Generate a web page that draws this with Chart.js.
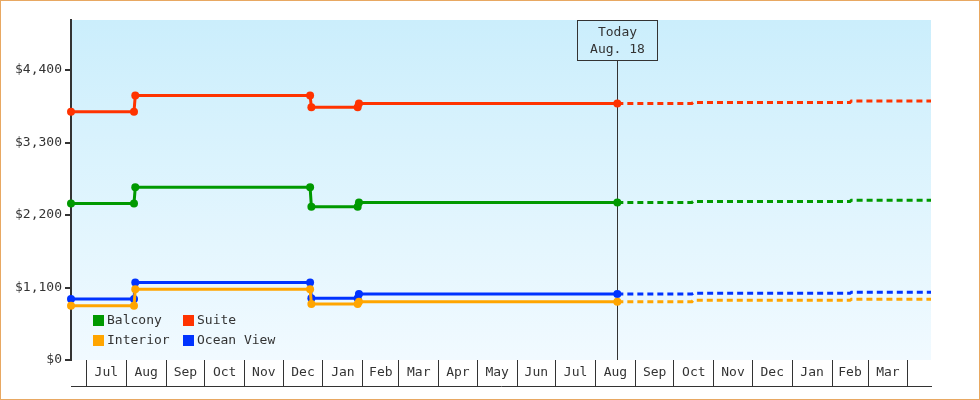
<!DOCTYPE html>
<html lang="en">
<head>
<meta charset="UTF-8">
<title>Cabin price history</title>
<script src="https://cdn.jsdelivr.net/npm/chart.js@4"></script>
<style>
    body { margin: 0; background: #fff; }
    .chart-box {
        width: 980px;
        height: 400px;
        border: 1px solid #e8a862;
        box-sizing: border-box;
        position: relative;
    }
</style>
</head>
<body>
<div class="chart-box"><canvas id="priceChart"></canvas></div>
<script>
// price history: each change is the last day at the old price + first day at the new one
const pastDates = ['2013-06-19', '2013-08-07', '2013-08-08', '2013-12-22', '2013-12-23', '2014-01-28', '2014-01-29', '2014-08-18'];
// projected prices after today (dashed)
const futureDates = ['2014-08-18', '2014-10-15', '2014-10-16', '2015-02-15', '2015-02-16', '2015-04-19'];

const balconyPast = [2377, 2377, 2620, 2620, 2326, 2326, 2392, 2392];
const balconyFuture = [2392, 2392, 2407, 2407, 2423, 2423];
const suitePast = [3767, 3767, 4015, 4015, 3834, 3834, 3894, 3894];
const suiteFuture = [3894, 3894, 3909, 3909, 3930, 3930];
const interiorPast = [824, 824, 1072, 1072, 850, 850, 885, 885];
const interiorFuture = [885, 885, 905, 905, 921, 921];
const oceanPast = [925, 925, 1178, 1178, 936, 936, 1001, 1001];
const oceanFuture = [1001, 1001, 1012, 1012, 1027, 1027];

const seriesNames = ['Balcony', 'Suite', 'Interior', 'Ocean View'];
const seriesColors = ['#009900', '#ff3300', '#ffa500', '#0033ff'];

const monthLabels = ['Jul', 'Aug', 'Sep', 'Oct', 'Nov', 'Dec', 'Jan', 'Feb', 'Mar', 'Apr', 'May', 'Jun',
                     'Jul', 'Aug', 'Sep', 'Oct', 'Nov', 'Dec', 'Jan', 'Feb', 'Mar'];
const firstMonth = [2013, 6]; // July 2013
const xStart = '2013-06-19';
const xEnd = '2015-04-19';

const yTicks = [0, 1100, 2200, 3300, 4400];
const yMax = 5160;

const todayDate = '2014-08-18';
const todayText = ['Today', 'Aug. 18'];

const DAY = 86400000;
const toDay = s => Date.parse(s + 'T00:00:00Z') / DAY;

// month boundaries (even ticks) and month middles (odd ticks, labelled) in day units
const monthStarts = [];
for (let i = 0; i <= monthLabels.length; i++) {
    monthStarts.push(Date.UTC(firstMonth[0], firstMonth[1] + i, 1) / DAY);
}
const xTicks = [];
monthStarts.forEach((v, i) => {
    xTicks.push(v);
    if (i < monthLabels.length) xTicks.push((v + monthStarts[i + 1]) / 2);
});

const toPoints = (dates, values) => dates.map((d, i) => ({ x: toDay(d), y: values[i] }));

const pastSeries = [balconyPast, suitePast, interiorPast, oceanPast];
const futureSeries = [balconyFuture, suiteFuture, interiorFuture, oceanFuture];

const datasets = [];
seriesNames.forEach((name, i) => {
    datasets.push({
        label: name,
        data: toPoints(pastDates, pastSeries[i]),
        borderColor: seriesColors[i],
        backgroundColor: seriesColors[i],
        borderWidth: 3,
        pointRadius: 4,
        pointBorderWidth: 0,
        pointHoverRadius: 4,
        clip: false
    });
    datasets.push({
        label: name + ' (projected)',
        data: toPoints(futureDates, futureSeries[i]),
        borderColor: seriesColors[i],
        borderWidth: 3,
        borderDash: [6, 4],
        pointRadius: 0,
        clip: false
    });
});

// light blue gradient behind the plot
const plotBackground = {
    id: 'plotBackground',
    beforeDraw(chart) {
        const { ctx, chartArea: a } = chart;
        const g = ctx.createLinearGradient(0, a.top, 0, a.bottom);
        g.addColorStop(0, '#cbeefc');
        g.addColorStop(1, '#f1faff');
        ctx.save();
        ctx.fillStyle = g;
        ctx.fillRect(a.left, a.top, a.right - a.left, a.bottom - a.top);
        ctx.restore();
    }
};

// "Today" marker line with its label box
const todayMarker = {
    id: 'todayMarker',
    beforeDatasetsDraw(chart) {
        const { ctx, chartArea: a } = chart;
        const x = Math.round(chart.scales.x.getPixelForValue(toDay(todayDate))) + 0.5;
        const boxW = 80, boxH = 40;
        const top = a.top + 0.5;
        ctx.save();
        ctx.strokeStyle = '#333';
        ctx.lineWidth = 1;
        ctx.strokeRect(x - boxW / 2, top, boxW, boxH);
        ctx.beginPath();
        ctx.moveTo(x, top + boxH);
        ctx.lineTo(x, a.bottom);
        ctx.stroke();
        ctx.fillStyle = '#333';
        ctx.font = '13px "DejaVu Sans Mono", monospace';
        ctx.textAlign = 'center';
        ctx.textBaseline = 'middle';
        ctx.fillText(todayText[0], x, top + 12);
        ctx.fillText(todayText[1], x, top + 29.5);
        ctx.restore();
    }
};

// two-column legend inside the lower left of the plot
const insideLegend = {
    id: 'insideLegend',
    afterDraw(chart) {
        const { ctx, chartArea: a } = chart;
        ctx.save();
        ctx.font = '13px "DejaVu Sans Mono", monospace';
        ctx.textBaseline = 'middle';
        ctx.textAlign = 'left';
        seriesNames.forEach((name, i) => {
            const col = i % 2, row = Math.floor(i / 2);
            const x = a.left + 22 + col * 90;
            const y = a.bottom - 45 + row * 20;
            ctx.fillStyle = seriesColors[i];
            ctx.fillRect(x, y, 11, 11);
            ctx.fillStyle = '#333';
            ctx.fillText(name, x + 14, y + 6);
        });
        ctx.restore();
    }
};

Chart.defaults.font.family = '"DejaVu Sans Mono", monospace';
Chart.defaults.font.size = 13;
Chart.defaults.color = '#333';

new Chart(document.getElementById('priceChart'), {
    type: 'line',
    data: { datasets },
    options: {
        responsive: true,
        maintainAspectRatio: false,
        animation: false,
        events: [],
        layout: { padding: { top: 19, right: 48, left: 0, bottom: 0 } },
        plugins: {
            legend: { display: false },
            tooltip: { enabled: false }
        },
        scales: {
            x: {
                type: 'linear',
                position: 'bottom',
                weight: 0,
                min: toDay(xStart),
                max: toDay(xEnd),
                afterBuildTicks: s => { s.ticks = xTicks.map(v => ({ value: v })); },
                afterFit: s => { s.height = 26; },
                ticks: {
                    autoSkip: false,
                    maxRotation: 0,
                    minRotation: 0,
                    padding: -21,
                    callback: (v, i) => (i % 2 ? monthLabels[(i - 1) / 2] : '')
                },
                grid: {
                    drawOnChartArea: false,
                    color: c => (c.index % 2 ? 'rgba(0,0,0,0)' : '#333'),
                    lineWidth: 1,
                    tickLength: 26
                },
                border: { display: false }
            },
            x2: {
                type: 'linear',
                position: 'bottom',
                weight: 1,
                min: toDay(xStart),
                max: toDay(xEnd),
                afterFit: s => { s.height = 13; },
                ticks: { display: false },
                grid: { display: false, drawTicks: false },
                border: { display: true, color: '#333', width: 1 }
            },
            y: {
                min: 0,
                max: yMax,
                afterBuildTicks: s => { s.ticks = yTicks.map(v => ({ value: v })); },
                afterFit: s => { s.width = 70; },
                ticks: {
                    padding: 3,
                    callback: v => '$' + v.toLocaleString('en-US')
                },
                grid: { drawOnChartArea: false, color: '#333', lineWidth: 2, tickLength: 6 },
                border: { display: true, color: '#333', width: 2 }
            }
        }
    },
    plugins: [plotBackground, todayMarker, insideLegend]
});
</script>
</body>
</html>
